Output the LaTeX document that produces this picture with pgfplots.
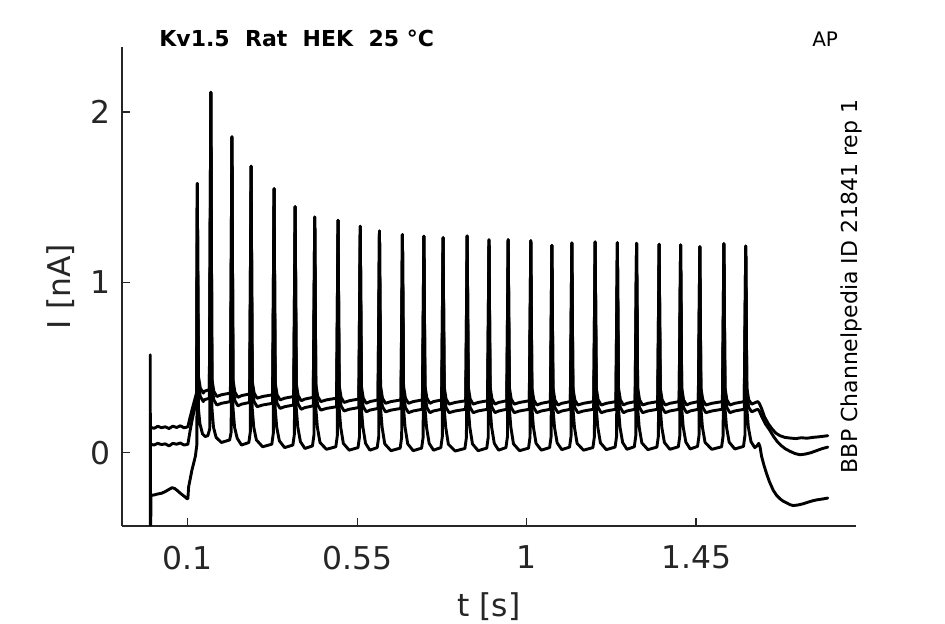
\documentclass[border=0pt]{standalone}
\usepackage{pgfplots}
\pgfplotsset{compat=1.18}
\usepackage{fontspec}
\setmainfont{DejaVu Sans}
\definecolor{axgray}{HTML}{262626}
\begin{document}
\begin{tikzpicture}
\useasboundingbox (0,0) rectangle (472.5pt,312pt);
\begin{axis}[
  at={(61pt,49pt)}, anchor=south west,
  width=367pt, height=239.5pt, scale only axis,
  xmin=-0.075, xmax=1.875, ymin=-0.43, ymax=2.381,
  axis x line*=bottom, axis y line*=left,
  axis line style={-, color=axgray, line width=0.6pt},
  tick align=inside, major tick length=4pt,
  tick style={color=axgray, line width=0.6pt},
  xtick={0.1,0.55,1,1.45}, xticklabels={0.1,0.55,1,1.45},
  ytick={0,1,2}, yticklabels={0,1,2},
  /pgf/number format/assume math mode=true,
  ticklabel style={font=\fontsize{15.7}{18}\selectfont, color=axgray},
  xticklabel style={yshift=-6.5pt},
  yticklabel style={xshift=-2.4pt},
  xlabel={t [s]}, ylabel={I [nA]},
  label style={font=\fontsize{15.7}{18}\selectfont, color=axgray},
  xlabel style={at={(axis description cs:0.5,-0.189)}, anchor=base},
  ylabel style={at={(axis description cs:-0.0695,0.5)}, anchor=base},
  clip mode=individual,
]
\addplot[black, line width=1.45pt, line join=round, line cap=round] coordinates {
(0,0.150) (0.01,0.143) (0.02,0.155) (0.03,0.147) (0.04,0.152) (0.05,0.142) (0.06,0.156) (0.07,0.148) (0.08,0.158) (0.09,0.146) (0.1,0.152)
(0.105,0.20) (0.112,0.26) (0.118,0.31) (0.123,0.35) (0.125,1.58)
(0.128,0.45) (0.133,0.38) (0.141,0.35) (0.143,0.36) (0.157,0.37) (0.161,2.115)
(0.164,0.43) (0.169,0.36) (0.177,0.33) (0.189,0.34) (0.213,0.35) (0.217,1.854)
(0.220,0.425) (0.225,0.355) (0.233,0.325) (0.2425,0.335) (0.264,0.345) (0.268,1.681)
(0.271,0.42) (0.276,0.35) (0.284,0.32) (0.2985,0.33) (0.325,0.34) (0.329,1.549)
(0.332,0.41) (0.337,0.34) (0.345,0.31) (0.357,0.32) (0.381,0.33) (0.385,1.444)
(0.388,0.405) (0.393,0.335) (0.401,0.305) (0.411,0.315) (0.433,0.325) (0.437,1.383)
(0.440,0.40) (0.445,0.33) (0.453,0.30) (0.468,0.31) (0.495,0.32) (0.499,1.364)
(0.502,0.395) (0.507,0.325) (0.515,0.295) (0.5285,0.305) (0.554,0.315) (0.558,1.329)
(0.561,0.39) (0.566,0.32) (0.574,0.29) (0.5835,0.30) (0.605,0.31) (0.609,1.301)
(0.612,0.39) (0.617,0.32) (0.625,0.29) (0.6395,0.30) (0.666,0.31) (0.670,1.280)
(0.673,0.39) (0.678,0.32) (0.686,0.29) (0.6985,0.30) (0.723,0.31) (0.727,1.270)
(0.730,0.39) (0.735,0.32) (0.743,0.29) (0.7525,0.30) (0.774,0.31) (0.778,1.262)
(0.781,0.385) (0.786,0.315) (0.794,0.285) (0.81,0.295) (0.838,0.305) (0.842,1.272)
(0.845,0.385) (0.850,0.315) (0.858,0.285) (0.871,0.295) (0.896,0.305) (0.900,1.250)
(0.903,0.385) (0.908,0.315) (0.916,0.285) (0.9255,0.295) (0.947,0.305) (0.951,1.250)
(0.954,0.385) (0.959,0.315) (0.967,0.285) (0.981,0.295) (1.007,0.305) (1.011,1.244)
(1.014,0.38) (1.019,0.31) (1.027,0.28) (1.039,0.29) (1.063,0.30) (1.067,1.217)
(1.070,0.38) (1.075,0.31) (1.083,0.28) (1.0935,0.29) (1.116,0.30) (1.120,1.231)
(1.123,0.38) (1.128,0.31) (1.136,0.28) (1.151,0.29) (1.178,0.30) (1.182,1.237)
(1.185,0.38) (1.190,0.31) (1.198,0.28) (1.2115,0.29) (1.237,0.30) (1.241,1.233)
(1.244,0.38) (1.249,0.31) (1.257,0.28) (1.2665,0.29) (1.288,0.30) (1.292,1.229)
(1.295,0.38) (1.300,0.31) (1.308,0.28) (1.322,0.29) (1.348,0.30) (1.352,1.223)
(1.355,0.38) (1.360,0.31) (1.368,0.28) (1.3805,0.29) (1.405,0.30) (1.409,1.219)
(1.412,0.38) (1.417,0.31) (1.425,0.28) (1.4345,0.29) (1.456,0.30) (1.460,1.209)
(1.463,0.38) (1.468,0.31) (1.476,0.28) (1.492,0.29) (1.520,0.30) (1.524,1.227)
(1.527,0.38) (1.532,0.31) (1.540,0.28) (1.553,0.29) (1.578,0.30) (1.582,1.213)
(1.585,0.38) (1.590,0.31) (1.598,0.285) (1.608,0.295) (1.614,0.30) (1.618,0.29) (1.624,0.26) (1.632,0.21) (1.642,0.17) (1.652,0.14) (1.662,0.115) (1.673,0.10) (1.686,0.09) (1.70,0.086) (1.715,0.083) (1.73,0.088) (1.745,0.085) (1.76,0.09) (1.775,0.093) (1.79,0.097) (1.80,0.10)
};
\addplot[black, line width=1.45pt, line join=round, line cap=round] coordinates {
(0,0.050) (0.01,0.045) (0.02,0.055) (0.03,0.048) (0.04,0.052) (0.05,0.040) (0.06,0.055) (0.07,0.05) (0.08,0.057) (0.09,0.045) (0.1,0.05)
(0.106,0.13) (0.112,0.20) (0.118,0.26) (0.123,0.30) (0.125,1.58)
(0.128,0.40) (0.133,0.33) (0.141,0.30) (0.143,0.31) (0.157,0.32) (0.161,2.115)
(0.164,0.38) (0.169,0.31) (0.177,0.28) (0.189,0.29) (0.213,0.30) (0.217,1.854)
(0.220,0.375) (0.225,0.305) (0.233,0.275) (0.2425,0.285) (0.264,0.295) (0.268,1.681)
(0.271,0.37) (0.276,0.30) (0.284,0.27) (0.2985,0.28) (0.325,0.29) (0.329,1.549)
(0.332,0.36) (0.337,0.29) (0.345,0.26) (0.357,0.27) (0.381,0.28) (0.385,1.444)
(0.388,0.355) (0.393,0.285) (0.401,0.255) (0.411,0.265) (0.433,0.275) (0.437,1.383)
(0.440,0.35) (0.445,0.28) (0.453,0.25) (0.468,0.26) (0.495,0.27) (0.499,1.364)
(0.502,0.345) (0.507,0.275) (0.515,0.245) (0.5285,0.255) (0.554,0.265) (0.558,1.329)
(0.561,0.34) (0.566,0.27) (0.574,0.24) (0.5835,0.25) (0.605,0.26) (0.609,1.301)
(0.612,0.34) (0.617,0.27) (0.625,0.24) (0.6395,0.25) (0.666,0.26) (0.670,1.280)
(0.673,0.335) (0.678,0.265) (0.686,0.235) (0.6985,0.245) (0.723,0.255) (0.727,1.270)
(0.730,0.335) (0.735,0.265) (0.743,0.235) (0.7525,0.245) (0.774,0.255) (0.778,1.262)
(0.781,0.335) (0.786,0.265) (0.794,0.235) (0.81,0.245) (0.838,0.255) (0.842,1.272)
(0.845,0.335) (0.850,0.265) (0.858,0.235) (0.871,0.245) (0.896,0.255) (0.900,1.250)
(0.903,0.335) (0.908,0.265) (0.916,0.235) (0.9255,0.245) (0.947,0.255) (0.951,1.250)
(0.954,0.335) (0.959,0.265) (0.967,0.235) (0.981,0.245) (1.007,0.255) (1.011,1.244)
(1.014,0.335) (1.019,0.265) (1.027,0.235) (1.039,0.245) (1.063,0.255) (1.067,1.217)
(1.070,0.335) (1.075,0.265) (1.083,0.235) (1.0935,0.245) (1.116,0.255) (1.120,1.231)
(1.123,0.335) (1.128,0.265) (1.136,0.235) (1.151,0.245) (1.178,0.255) (1.182,1.237)
(1.185,0.335) (1.190,0.265) (1.198,0.235) (1.2115,0.245) (1.237,0.255) (1.241,1.233)
(1.244,0.335) (1.249,0.265) (1.257,0.235) (1.2665,0.245) (1.288,0.255) (1.292,1.229)
(1.295,0.335) (1.300,0.265) (1.308,0.235) (1.322,0.245) (1.348,0.255) (1.352,1.223)
(1.355,0.335) (1.360,0.265) (1.368,0.235) (1.3805,0.245) (1.405,0.255) (1.409,1.219)
(1.412,0.335) (1.417,0.265) (1.425,0.235) (1.4345,0.245) (1.456,0.255) (1.460,1.209)
(1.463,0.335) (1.468,0.265) (1.476,0.235) (1.492,0.245) (1.520,0.255) (1.524,1.227)
(1.527,0.335) (1.532,0.265) (1.540,0.235) (1.553,0.245) (1.578,0.255) (1.582,1.213)
(1.585,0.335) (1.590,0.265) (1.598,0.24) (1.608,0.25) (1.614,0.255) (1.618,0.245) (1.625,0.21) (1.634,0.17) (1.645,0.135) (1.656,0.095) (1.666,0.065) (1.676,0.042) (1.688,0.022) (1.70,0.008) (1.712,-0.004) (1.726,-0.012) (1.74,-0.008) (1.755,0.0) (1.77,0.012) (1.785,0.024) (1.80,0.033)
};
\addplot[black, line width=1.45pt, line join=round, line cap=round] coordinates {
(0,0.575) (0.0006,-0.6) (0.002,-0.25)
(0.01,-0.248) (0.02,-0.242) (0.03,-0.238) (0.04,-0.228) (0.05,-0.215) (0.058,-0.205) (0.065,-0.21) (0.072,-0.222) (0.08,-0.238) (0.09,-0.255) (0.098,-0.27) (0.1,-0.27)
(0.102,-0.2) (0.111,-0.10) (0.12,-0.02) (0.124,0.05) (0.125,1.58)
(0.128,0.26) (0.132,0.17) (0.139,0.11) (0.146,0.095) (0.153,0.10) (0.158,0.14) (0.161,2.115)
(0.164,0.26) (0.168,0.15) (0.175,0.09) (0.189,0.06) (0.211,0.075) (0.215,0.12) (0.217,1.854)
(0.220,0.26) (0.224,0.15) (0.231,0.085) (0.2425,0.045) (0.262,0.06) (0.266,0.125) (0.268,1.681)
(0.271,0.26) (0.275,0.15) (0.282,0.075) (0.2985,0.035) (0.323,0.05) (0.327,0.115) (0.329,1.549)
(0.332,0.26) (0.336,0.15) (0.343,0.07) (0.357,0.03) (0.379,0.045) (0.383,0.11) (0.385,1.444)
(0.388,0.26) (0.392,0.15) (0.399,0.065) (0.411,0.025) (0.431,0.04) (0.435,0.105) (0.437,1.383)
(0.440,0.26) (0.444,0.15) (0.451,0.06) (0.468,0.02) (0.493,0.035) (0.497,0.10) (0.499,1.364)
(0.502,0.26) (0.506,0.15) (0.513,0.055) (0.5285,0.015) (0.552,0.03) (0.556,0.095) (0.558,1.329)
(0.561,0.26) (0.565,0.15) (0.572,0.055) (0.5835,0.015) (0.603,0.03) (0.607,0.095) (0.609,1.301)
(0.612,0.26) (0.616,0.15) (0.623,0.052) (0.6395,0.012) (0.664,0.027) (0.668,0.092) (0.670,1.280)
(0.673,0.26) (0.677,0.15) (0.684,0.052) (0.6985,0.012) (0.721,0.027) (0.725,0.092) (0.727,1.270)
(0.730,0.26) (0.734,0.15) (0.741,0.055) (0.7525,0.015) (0.772,0.03) (0.776,0.095) (0.778,1.262)
(0.781,0.26) (0.785,0.15) (0.792,0.05) (0.81,0.01) (0.836,0.025) (0.840,0.09) (0.842,1.272)
(0.845,0.26) (0.849,0.15) (0.856,0.052) (0.871,0.012) (0.894,0.027) (0.898,0.092) (0.900,1.250)
(0.903,0.26) (0.907,0.15) (0.914,0.055) (0.9255,0.015) (0.945,0.03) (0.949,0.095) (0.951,1.250)
(0.954,0.26) (0.958,0.15) (0.965,0.052) (0.981,0.012) (1.005,0.027) (1.009,0.092) (1.011,1.244)
(1.014,0.26) (1.018,0.15) (1.025,0.055) (1.039,0.015) (1.061,0.03) (1.065,0.095) (1.067,1.217)
(1.070,0.26) (1.074,0.15) (1.081,0.058) (1.0935,0.018) (1.114,0.033) (1.118,0.098) (1.120,1.231)
(1.123,0.26) (1.127,0.15) (1.134,0.055) (1.151,0.015) (1.176,0.03) (1.180,0.095) (1.182,1.237)
(1.185,0.26) (1.189,0.15) (1.196,0.058) (1.2115,0.018) (1.235,0.033) (1.239,0.098) (1.241,1.233)
(1.244,0.26) (1.248,0.15) (1.255,0.06) (1.2665,0.02) (1.286,0.035) (1.290,0.10) (1.292,1.229)
(1.295,0.26) (1.299,0.15) (1.306,0.058) (1.322,0.018) (1.346,0.033) (1.350,0.098) (1.352,1.223)
(1.355,0.26) (1.359,0.15) (1.366,0.06) (1.3805,0.02) (1.403,0.035) (1.407,0.10) (1.409,1.219)
(1.412,0.26) (1.416,0.15) (1.423,0.062) (1.4345,0.022) (1.454,0.037) (1.458,0.102) (1.460,1.209)
(1.463,0.26) (1.467,0.15) (1.474,0.06) (1.492,0.02) (1.518,0.035) (1.522,0.10) (1.524,1.227)
(1.527,0.26) (1.531,0.15) (1.538,0.062) (1.553,0.022) (1.576,0.037) (1.580,0.102) (1.582,1.213)
(1.585,0.26) (1.589,0.15) (1.596,0.065) (1.606,0.03) (1.612,0.04) (1.6165,0.055) (1.620,0.035) (1.624,-0.02) (1.630,-0.07) (1.637,-0.12) (1.645,-0.17) (1.655,-0.22) (1.664,-0.25) (1.673,-0.27) (1.682,-0.285) (1.691,-0.295) (1.70,-0.305) (1.708,-0.31) (1.72,-0.307) (1.734,-0.30) (1.748,-0.29) (1.76,-0.282) (1.77,-0.277) (1.785,-0.272) (1.80,-0.266)
};
\node[anchor=base west, inner sep=0pt, font=\fontsize{11}{13}\selectfont\bfseries] at (axis description cs:0.0504,1.001) {Kv1.5\ \ Rat\ \ HEK\ \ 25 °C};
\node[anchor=base, inner sep=0pt, font=\fontsize{10}{12}\selectfont] at (axis description cs:0.958,1.001) {AP};
\node[anchor=base, rotate=90, inner sep=0pt, font=\fontsize{11}{13}\selectfont] at (axis description cs:1.0014,0.5) {BBP Channelpedia ID 21841 rep 1};
\end{axis}
\end{tikzpicture}
\end{document}
